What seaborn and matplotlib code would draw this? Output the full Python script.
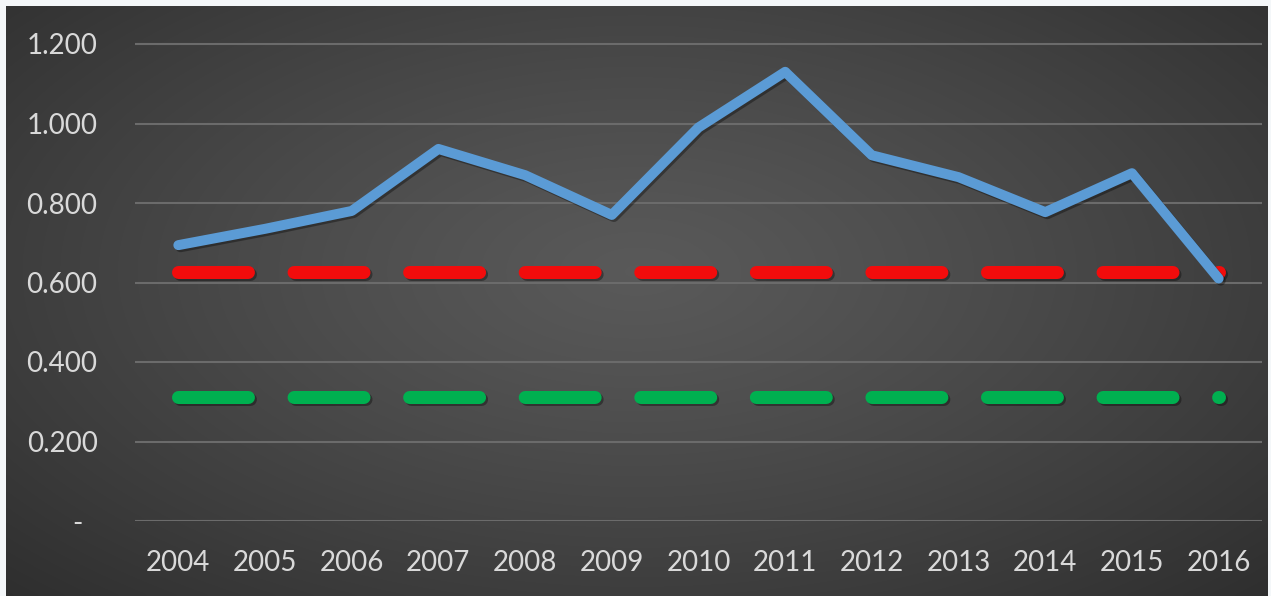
import numpy as np
import pandas as pd
import matplotlib
matplotlib.use("Agg")
import matplotlib.pyplot as plt
import matplotlib.patheffects as pe
import seaborn as sns

# Series
years = ["2004", "2005", "2006", "2007", "2008", "2009", "2010",
         "2011", "2012", "2013", "2014", "2015", "2016"]
index_values = [0.694, 0.735, 0.780, 0.936, 0.870, 0.770, 0.990,
                1.130, 0.920, 0.865, 0.777, 0.875, 0.610]
upper_limit = [0.627, 0.627, 0.627, 0.627, 0.627, 0.627, 0.627,
               0.627, 0.627, 0.627, 0.627, 0.627, 0.627]
lower_limit = [0.312, 0.312, 0.312, 0.312, 0.312, 0.312, 0.312,
               0.312, 0.312, 0.312, 0.312, 0.312, 0.312]
y_ticks = [0.0, 0.2, 0.4, 0.6, 0.8, 1.0, 1.2]
y_tick_labels = ["-  ", "0.200", "0.400", "0.600", "0.800", "1.000", "1.200"]

df = pd.DataFrame({"year": years, "index": index_values,
                   "upper": upper_limit, "lower": lower_limit})

sns.set_theme(style="dark")
plt.rcParams["font.family"] = ["Lato", "DejaVu Sans"]

W, H, DPI = 1271, 596, 100
fig = plt.figure(figsize=(W / DPI, H / DPI), dpi=DPI, facecolor="#f4f7f9")

# dark radial backdrop
bg = fig.add_axes([6 / W, 0, (1268 - 6) / W, (H - 6) / H])
bg.set_axis_off()
gx, gy = np.meshgrid(np.linspace(-1, 1, 400), np.linspace(-1, 1, 200))
r = np.sqrt(gx ** 2 + ((gy + 0.1) / 1.1) ** 2)
shade = np.clip(0.35 - 0.11 * r ** 1.2, 0.17, 0.36)
bg.imshow(np.dstack([shade, shade, shade]), aspect="auto",
          extent=[0, 1, 0, 1], interpolation="bicubic")
bg.set_xlim(0, 1)
bg.set_ylim(0, 1)

# plot area
px_per_unit = (521 - 44) / 1.2
y_top = 1.25
top_px = 521 - y_top * px_per_unit
ax = fig.add_axes([135 / W, (H - 521) / H, (1262 - 135) / W, (521 - top_px) / H])
ax.patch.set_alpha(0)

shadow = [pe.SimpleLineShadow(offset=(1.5, -1.5), shadow_color="black", alpha=0.35),
          pe.Normal()]

sns.lineplot(data=df, x="year", y="upper", ax=ax, color="#f20c0c",
             linewidth=9.36, sort=False)
sns.lineplot(data=df, x="year", y="lower", ax=ax, color="#00b050",
             linewidth=9.36, sort=False)
sns.lineplot(data=df, x="year", y="index", ax=ax, color="#5b9bd5",
             linewidth=7.2, sort=False)

for ln in ax.lines[:2]:
    ln.set_dashes((5.38, 3.51))
    ln.set_dash_capstyle("round")
    ln.set_path_effects(shadow)
ax.lines[2].set_solid_capstyle("round")
ax.lines[2].set_solid_joinstyle("round")
ax.lines[2].set_path_effects(shadow)

ax.set_xlim(-0.5, len(years) - 0.5)
ax.set_ylim(0, y_top)
ax.set_yticks(y_ticks)
ax.set_yticklabels(y_tick_labels)
ax.set_xlabel("")
ax.set_ylabel("")
for s in ax.spines.values():
    s.set_visible(False)
ax.grid(axis="y", color="#6b6b6b", linewidth=1.5)
ax.grid(axis="x", visible=False)
ax.set_axisbelow(True)
ax.tick_params(axis="both", length=0, labelsize=20, colors="#d9d9d9")
ax.tick_params(axis="y", pad=27)
ax.tick_params(axis="x", pad=21)

fig.savefig("out.png", dpi=DPI, facecolor=fig.get_facecolor())
